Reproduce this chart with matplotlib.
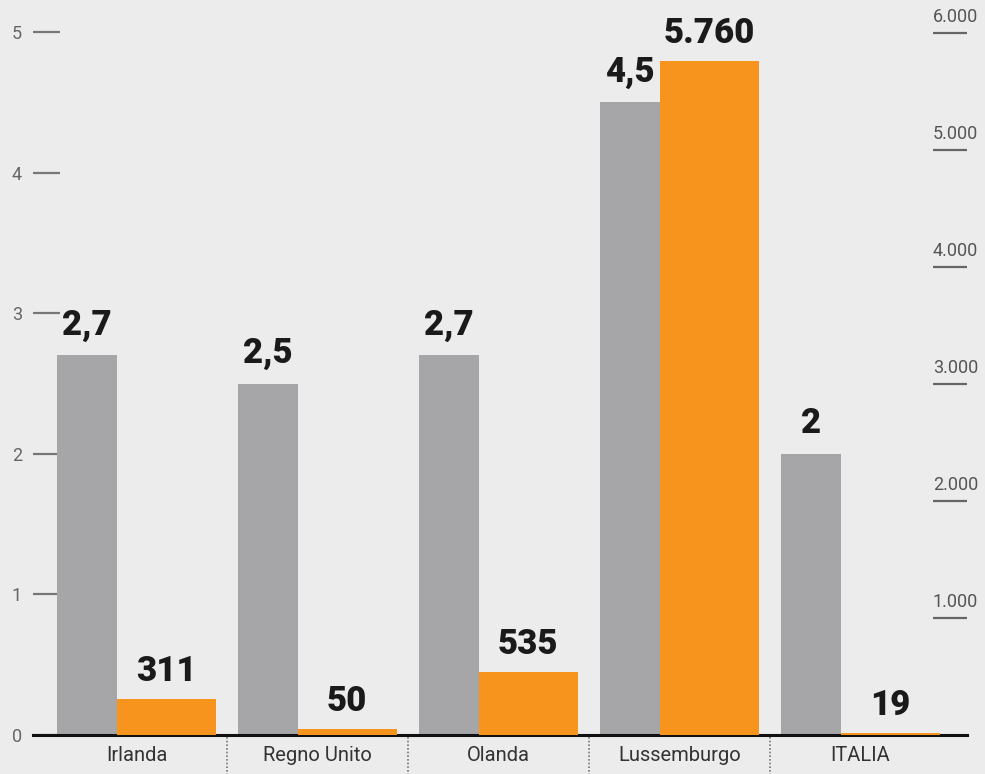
import numpy as np
import matplotlib
matplotlib.use("Agg")
import matplotlib.pyplot as plt
import matplotlib.transforms as mtransforms

# data
countries = ["Irlanda", "Regno Unito", "Olanda", "Lussemburgo", "ITALIA"]
grey_vals = [2.7, 2.5, 2.7, 4.5, 2.0]
orange_vals = [311, 50, 535, 5760, 19]
left_ticks = [0, 1, 2, 3, 4, 5]
right_ticks = [1000, 2000, 3000, 4000, 5000, 6000]

BG = "#ececec"
GREY = "#a6a6a9"
ORANGE = "#f7941d"


def it_dec(v):
    return f"{v:g}".replace(".", ",")


def it_thousands(v):
    return f"{v:,}".replace(",", ".")


fig = plt.figure(figsize=(9.85, 7.74), dpi=100, facecolor=BG)
W, H = 985, 774
ax = fig.add_axes([33 / W, 39 / H, (967 - 33) / W, 735 / H])
ax.set_facecolor(BG)
ax2 = ax.twinx()

x = np.arange(len(countries))
ax.bar(x - 0.44, grey_vals, width=0.33, align="edge", color=GREY, zorder=2)
ax2.bar(x - 0.11, orange_vals, width=0.547, align="edge", color=ORANGE, zorder=2)

ax.set_xlim(-0.572, 4.588)
ax.set_ylim(0, 735 / 140.6)
ax2.set_ylim(0, 735 / 0.117)

valfont = dict(family=["Roboto", "DejaVu Sans"], fontsize=25, fontweight="black",
               color="#1a1a1a", ha="center", va="baseline")
for xi, v in zip(x, grey_vals):
    ax.annotate(it_dec(v), (xi - 0.44 + 0.165, v), xytext=(0, 15),
                textcoords="offset points", **valfont)
for xi, v in zip(x, orange_vals):
    ax2.annotate(it_thousands(v), (xi - 0.11 + 0.2735, v), xytext=(0, 13),
                 textcoords="offset points", **valfont)

# left axis
ax.set_yticks(left_ticks)
ax.set_yticklabels([str(t) for t in left_ticks], family=["Roboto", "DejaVu Sans"],
                   fontsize=13, color="#666666")
ax.tick_params(axis="y", direction="in", length=19.5, width=1.6, color="#777777", pad=8)

# right axis
ax2.set_yticks(right_ticks)
ax2.set_yticklabels([it_thousands(t) for t in right_ticks],
                    family=["Roboto", "DejaVu Sans"], fontsize=13, color="#555555")
ax2.tick_params(axis="y", direction="in", length=24.5, width=1.6, color="#666666", pad=-24.5)
lift = mtransforms.ScaledTranslation(0, 5 / 72, fig.dpi_scale_trans)
for tick in ax2.yaxis.get_major_ticks():
    tick.label2.set_va("bottom")
    tick.label2.set_transform(tick.label2.get_transform() + lift)

# x axis
ax.set_xticks(x)
ax.set_xticklabels(countries, family=["Roboto", "DejaVu Sans"], fontsize=14.5,
                   color="#333333")
ax.tick_params(axis="x", length=0, pad=8)

for a in (ax, ax2):
    for s in ("top", "left", "right", "bottom"):
        a.spines[s].set_visible(False)
ax.spines["bottom"].set_visible(True)
ax.spines["bottom"].set_linewidth(2.2)
ax.spines["bottom"].set_color("#111111")
ax.spines["bottom"].set_zorder(5)

# dotted separators below the axis
trans = mtransforms.blended_transform_factory(ax.transData, ax.transAxes)
for b in x[:-1] + 0.5:
    ax.plot([b, b], [-0.003, -0.06], transform=trans, clip_on=False,
            color="#777777", linestyle=(0, (1, 1.2)), linewidth=1.2)

fig.savefig("out.png", dpi=100, facecolor=BG)
